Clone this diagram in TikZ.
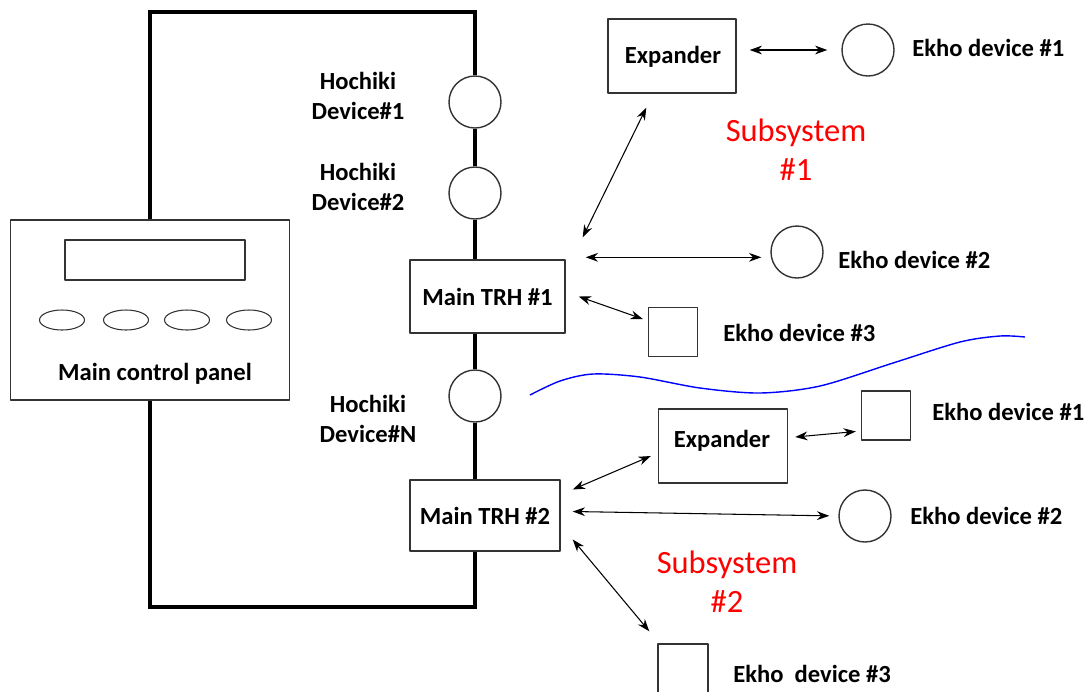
\documentclass[tikz,border=0pt]{standalone}
\usepackage{fontspec}
\setmainfont{Carlito}
\usetikzlibrary{arrows.meta,shapes.geometric}
\newlength{\pxu}\setlength{\pxu}{0.02cm}
\tikzset{
  box/.style={draw=black!80, line width=0.8pt, inner sep=0pt},
  dev/.style={draw=black!80, line width=0.8pt, circle, minimum size=52\pxu, inner sep=0pt},
  sqdev/.style={draw=black!80, line width=0.8pt, minimum size=49\pxu, inner sep=0pt},
  btn/.style={draw=black!80, line width=0.6pt, ellipse, minimum width=45\pxu, minimum height=20\pxu, inner sep=0pt},
  lbl/.style={font=\bfseries\fontsize{14}{17}\selectfont, inner sep=0pt},
  sub/.style={font=\fontsize{18.5}{22}\selectfont, text=red, align=center, inner sep=0pt},
  wire/.style={line width=1.8pt, line join=miter},
  link/.style={<->, line width=0.6pt}
}
\begin{document}
\begin{tikzpicture}[x=0.02cm, y=-0.02cm, >={Stealth[length=7pt,width=5pt]}, line join=round]
\useasboundingbox (0,0) rectangle (1089,691);
% control panel
\node[box, minimum width=279\pxu, minimum height=180\pxu] (panel) at (150,310) {};
\node[box, minimum width=180\pxu, minimum height=40\pxu] (screen) at (155,260) {};
\foreach \bx [count=\i] in {62,126,187,249}
  \node[btn] (btn\i) at (\bx,320) {};
\node[lbl] (paneltxt) at (155,374) {Main control panel};
% loop devices
\node[dev] (h1) at (475,102) {};
\node[dev] (h2) at (475,193) {};
\node[dev] (hN) at (475,396) {};
\node[lbl, align=center] (h1l) at (358,96) {Hochiki\\Device\#1};
\node[lbl, align=center] (h2l) at (358,187) {Hochiki\\Device\#2};
\node[lbl, align=center] (hNl) at (368,419) {Hochiki\\Device\#N};
\node[box, minimum width=155\pxu, minimum height=73\pxu] (trh1) at (487.5,296.5) {};
\node[lbl] at (trh1) {Main TRH \#1};
\node[box, minimum width=150\pxu, minimum height=71\pxu] (trh2) at (485,515.5) {};
\node[lbl] at (trh2) {Main TRH \#2};
% wire loop
\coordinate (tl) at (150,12);
\coordinate (tr) at (475,12);
\coordinate (bl) at (150,607);
\coordinate (br) at (475,607);
\draw[wire] (panel.north) -- (tl) -- (tr) -- (h1.north);
\draw[wire] (h1.south) -- (h2.north);
\draw[wire] (h2.south) -- (h2.south |- trh1.north);
\draw[wire] (trh1.south -| hN) -- (hN.north);
\draw[wire] (hN.south) -- (hN.south |- trh2.north);
\draw[wire] (trh2.south -| br) -- (br) -- (bl) -- (panel.south);
% subsystem 1
\node[box, minimum width=128\pxu, minimum height=74\pxu] (exp1) at (672,56) {};
\node[lbl] at (673,57) {Expander};
\node[dev] (e11) at (868,50) {};
\node[lbl, anchor=west] (e11l) at (912,48) {Ekho device \#1};
\node[dev] (e12) at (797,252) {};
\node[lbl, anchor=west] (e12l) at (838,260) {Ekho device \#2};
\node[sqdev] (e13) at (673,332) {};
\node[lbl, anchor=west] (e13l) at (723,333) {Ekho device \#3};
\node[sub] (sub1) at (796,150) {Subsystem\\\#1};
\coordinate (a2s) at ([shift={(20,-2)}]trh1.north east);
\draw[link, shorten <=13\pxu, shorten >=14\pxu] (exp1.east |- e11) -- (e11.west);
\draw[link] ([shift={(17,-22)}]trh1.north east) -- ([shift={(39,14)}]exp1.south west);
\draw[link, shorten >=9\pxu] (a2s) -- (a2s -| e12.west);
\draw[link] ([xshift=13\pxu]trh1.east) -- ([shift={(-5,-13)}]e13.west);
% divider
\draw[blue, line width=0.8pt] plot[smooth] coordinates {(530,395) (560,381) (593,374) (640,377) (700,388) (760,393) (820,386) (893,363) (960,342) (1000,336) (1025,337)};
% subsystem 2
\node[box, minimum width=129\pxu, minimum height=74\pxu] (exp2) at (723,446) {};
\node[lbl] at (722,441) {Expander};
\node[sqdev] (e21) at (886,415.5) {};
\node[lbl, anchor=west] (e21l) at (932,412) {Ekho device \#1};
\node[dev] (e22) at (865,516) {};
\node[lbl, anchor=west] (e22l) at (910,516) {Ekho device \#2};
\node[sqdev, minimum size=50\pxu] (e23) at (683,669) {};
\node[lbl, anchor=west] (e23l) at (733,674) {Ekho\ \ device \#3};
\node[sub] (sub2) at (727,582) {Subsystem\\\#2};
\draw[link] ([shift={(7,-9)}]exp2.east) -- ([shift={(-5,16)}]e21.west);
\draw[link] ([shift={(12,-26)}]trh2.east) -- ([shift={(-7,10)}]exp2.west);
\draw[link, shorten >=9\pxu] ([shift={(12,-4)}]trh2.east) -- (e22.west);
\draw[link] ([shift={(12,24)}]trh2.east) -- ([shift={(-8,-12)}]e23.north west);
\end{tikzpicture}
\end{document}
